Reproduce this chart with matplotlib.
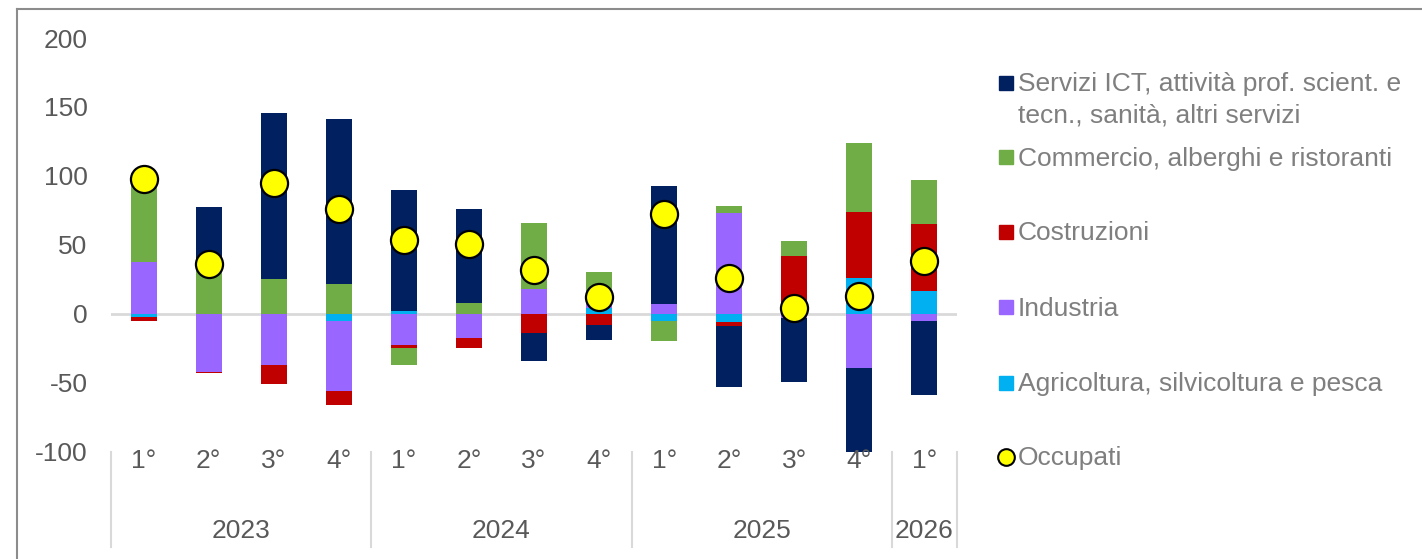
import numpy as np
import matplotlib.pyplot as plt
from matplotlib.lines import Line2D
from matplotlib.patches import Rectangle

plt.rcParams['font.family'] = ['Liberation Sans', 'DejaVu Sans']
plt.rcParams['axes.unicode_minus'] = False

# dati (contributi alla variazione degli occupati, migliaia)
quarters = ['1°', '2°', '3°', '4°', '1°', '2°', '3°', '4°', '1°', '2°', '3°', '4°', '1°']
years = ['2023', '2024', '2025', '2026']
year_span = [4, 4, 4, 1]

agricoltura = [-2, 0, 0, -5.3, 2.5, 0, 0, 4.6, -5.3, -5.8, 0, 26.4, 16.4]
industria = [38, -42, -37, -50.7, -22.7, -17.4, 18.4, 2.9, 7, 73.2, -3, -39, -5.3]
costruzioni = [-3, -1, -14, -10, -2.1, -7.6, -13.7, -8.2, 0, -2.6, 41.8, 47.8, 48.8]
commercio = [64, 34, 25, 22, -11.9, 8, 47.6, 22.9, -14.5, 5.3, 11.2, 49.8, 31.8]
servizi = [0, 43.5, 121, 119, 87.5, 68, -20.6, -10.6, 85.5, -44.5, -46, -62.6, -53.7]
occupati = [97.5, 36, 95, 76, 53.5, 50.7, 32, 12.3, 72.7, 26, 4.4, 13, 38.7]

series = [
    ('Agricoltura, silvicoltura e pesca', agricoltura, '#00B0F0'),
    ('Industria', industria, '#9966FF'),
    ('Costruzioni', costruzioni, '#C00000'),
    ('Commercio, alberghi e ristoranti', commercio, '#70AD47'),
    ('Servizi ICT, attività prof. scient. e\ntecn., sanità, altri servizi', servizi, '#002060'),
]

FS = 19
W, H = 1422, 559
fig = plt.figure(figsize=(W / 100, H / 100), dpi=100)
ax = fig.add_axes([111 / W, 1 - 452 / H, (957 - 111) / W, (452 - 38) / H])

x = np.arange(len(quarters))
pos = np.zeros(len(x))
neg = np.zeros(len(x))
for name, vals, col in series:
    v = np.array(vals, dtype=float)
    bottom = np.where(v >= 0, pos, neg)
    ax.bar(x, v, 0.4, bottom=bottom, color=col, edgecolor='none', zorder=2)
    pos = pos + np.clip(v, 0, None)
    neg = neg + np.clip(v, None, 0)

ax.plot(x, occupati, 'o', ms=19.5, mfc='#FFFF00', mec='black', mew=1.6, zorder=4)
ax.axhline(0, color='#D9D9D9', lw=2, zorder=1)

ax.set_xlim(-0.5, len(x) - 0.5)
ax.set_ylim(-100, 200)
ax.set_yticks(range(-100, 201, 50))
ax.tick_params(axis='y', length=0, pad=17, labelsize=FS, labelcolor='#595959')
ax.set_xticks([])
for s in ax.spines.values():
    s.set_visible(False)

tr = ax.get_xaxis_transform()
for i, q in enumerate(quarters):
    ax.text(i, -0.016, q, transform=tr, ha='center', va='center_baseline',
            fontsize=FS, color='#595959')
start = 0
edges = [-0.5]
for yr, n in zip(years, year_span):
    ax.text(start + (n - 1) / 2, -0.185, yr, transform=tr, ha='center',
            va='center_baseline', fontsize=FS, color='#595959')
    start += n
    edges.append(start - 0.5)
for e in edges:
    ax.plot([e, e], [0, -0.229], transform=tr, color='#D9D9D9', lw=1.5, clip_on=False)

# cornice esterna
fig.add_artist(Line2D([17 / W, 17 / W], [0, 1 - 9 / H], color='#8C8C8C', lw=1.5))
fig.add_artist(Line2D([17 / W, 1], [1 - 9 / H, 1 - 9 / H], color='#8C8C8C', lw=1.5))

# legenda
leg_y = [83, 157, 232, 307, 383]
for (name, vals, col), yy in zip(series[::-1], leg_y):
    fig.add_artist(Rectangle((999 / W, 1 - (yy + 7) / H), 14 / W, 14 / H,
                             color=col, transform=fig.transFigure))
    for k, line in enumerate(name.split('\n')):
        fig.text(1018 / W, 1 - (yy - 1 + 31 * k) / H, line, fontsize=FS,
                 color='#7F7F7F', va='center_baseline')
fig.add_artist(Line2D([1006 / W], [1 - 457 / H], marker='o', ms=12, mfc='#FFFF00',
                      mec='black', mew=1.5))
fig.text(1018 / W, 1 - 456 / H, 'Occupati', fontsize=FS, color='#7F7F7F',
         va='center_baseline')

fig.savefig('out.png', dpi=100)
